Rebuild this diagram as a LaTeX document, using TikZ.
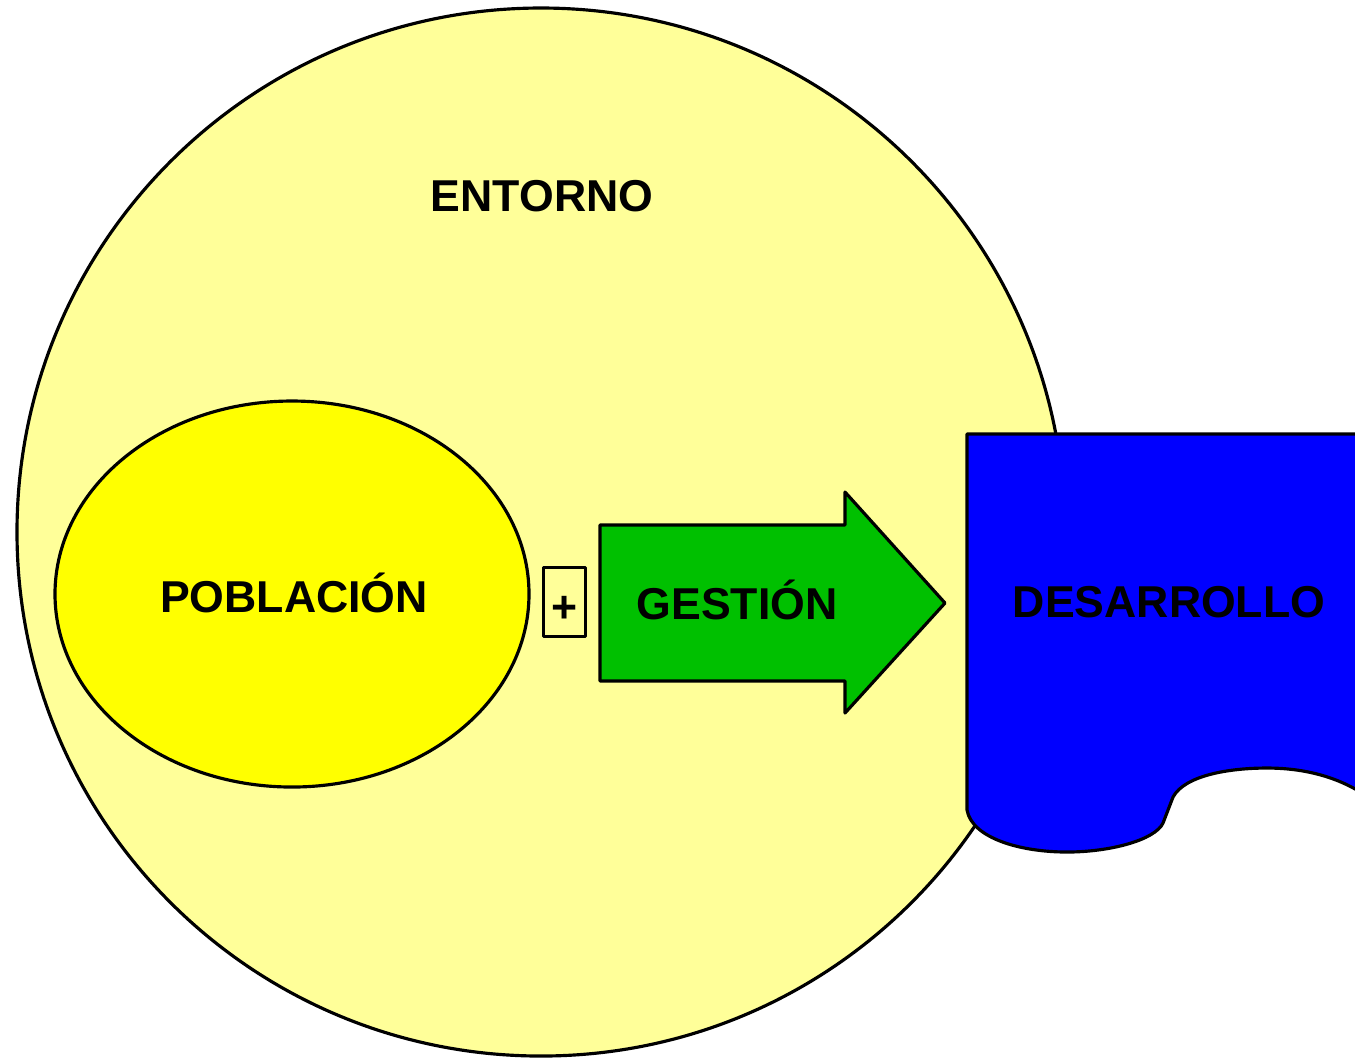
\documentclass[tikz,border=0pt]{standalone}
\usepackage{fontspec}
\setmainfont{Liberation Sans}
\usetikzlibrary{shapes.geometric}
\definecolor{entornoyellow}{RGB}{255,255,153}
\definecolor{poblyellow}{RGB}{255,255,0}
\definecolor{gestgreen}{RGB}{0,192,0}
\definecolor{desblue}{RGB}{0,0,255}
\begin{document}
\begin{tikzpicture}[line join = round, line cap = round, >=stealth, line width = .9pt, font = \bfseries\fontsize{12.7}{15}\selectfont, scale = 1]
			%		\draw[gray!50,xstep = 1, ystep = 1] (0,0) grid (13.55,-10.58);
			\clip (0,0) rectangle (13.55,-10.58);
			
			\node[circle, draw = black, fill = entornoyellow, anchor = center, outer sep = 0pt, inner sep = 0pt, minimum size = 10.48cm] (entorno) at (5.41,-5.32) {};
			\node[ellipse, draw = black, fill = poblyellow, anchor = center, outer sep = 0pt, inner sep = 0pt, minimum width = 4.74cm, minimum height = 3.86cm] (poblacion) at (2.92,-5.94) {};
			\node[rectangle, line width = 1.1pt, draw = black, anchor = center, outer sep = 0pt, inner sep = 0pt, minimum width = .42cm, minimum height = .69cm] (mas) at (5.645,-6.02) {};
			
			\draw[fill = gestgreen] (6.00,-5.25) -- (8.45,-5.25) -- (8.45,-4.92) -- (9.45,-6.03) -- (8.45,-7.13) -- (8.45,-6.81) -- (6.00,-6.81) -- cycle;
			
			\draw[fill = desblue] (9.67,-4.34) -- (9.67,-8.10)
			.. controls (9.72,-8.38) and (10.20,-8.52) .. (10.67,-8.52)
			.. controls (11.10,-8.52) and (11.55,-8.40) .. (11.63,-8.23)
			-- (11.73,-7.97)
			.. controls (11.85,-7.75) and (12.30,-7.68) .. (12.67,-7.68)
			.. controls (13.00,-7.68) and (13.35,-7.75) .. (13.65,-7.95)
			-- (13.65,-4.34) -- cycle;
			
			\path
			(5.42,-1.96) node (tentorno) {ENTORNO}
			(2.94,-5.93) node (tpoblacion) {POBLACIÓN}
			(7.37,-6.00) node (tgestion) {GESTIÓN}
			(11.69,-6.02) node (tdesarrollo) {DESARROLLO}
			(mas.center) ++(0,-.07) node (tmas) {+}
			;
		\end{tikzpicture}
\end{document}
